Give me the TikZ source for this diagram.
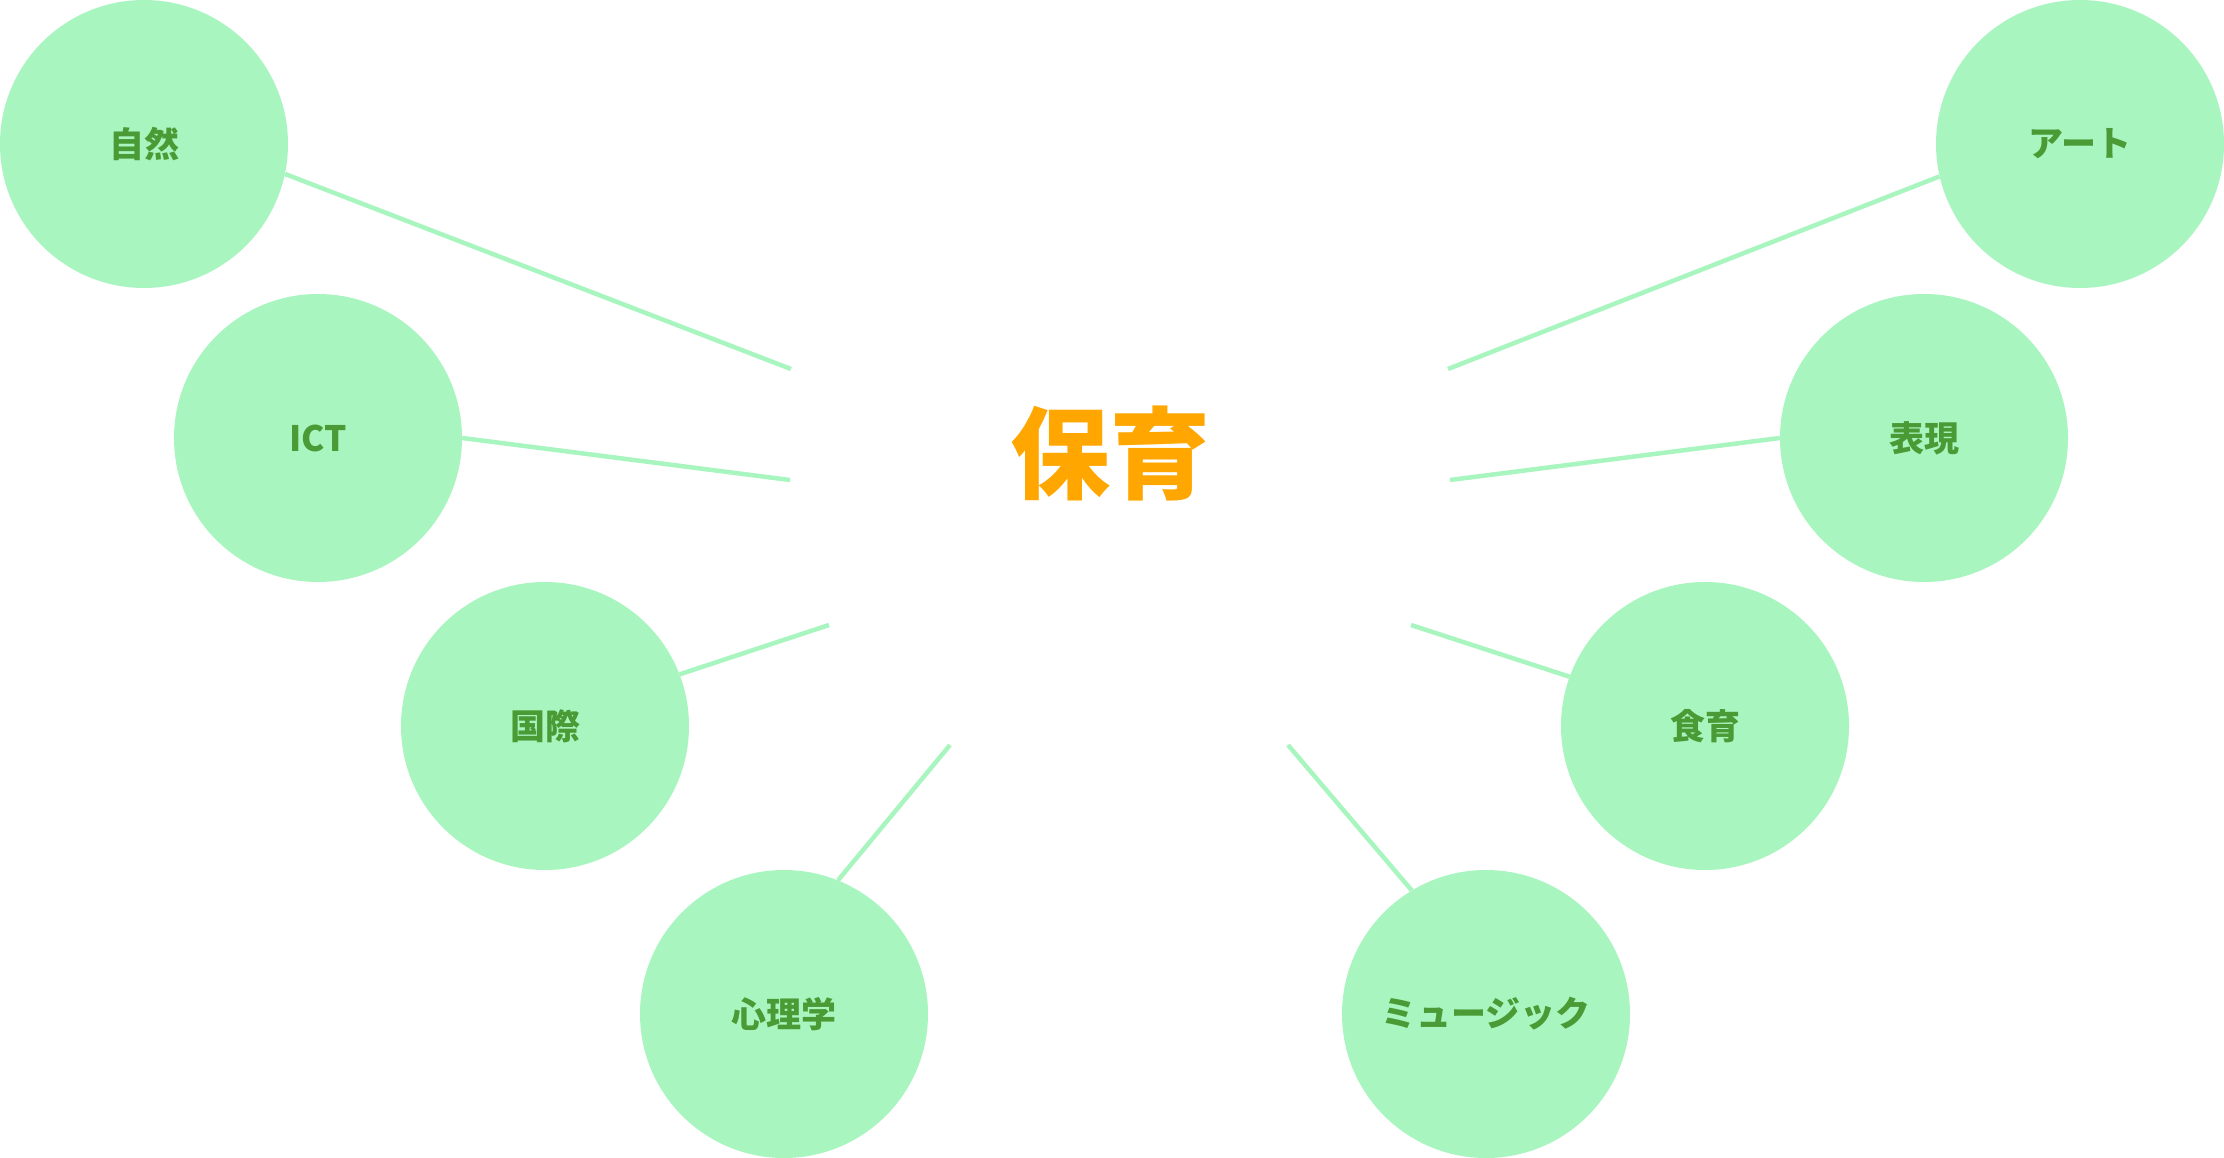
\documentclass[tikz,border=0pt]{standalone}
\usepackage{fontspec}
\setmainfont{Noto Sans CJK JP}
\usepackage{tikz}
\usetikzlibrary{backgrounds}
\definecolor{mint}{HTML}{A9F5C0}
\definecolor{leaf}{HTML}{4A9B35}
\definecolor{amber}{HTML}{FFA600}

\begin{document}
\begin{tikzpicture}[
    x=1pt, y=-1pt,
    topic/.style={circle, fill=mint, minimum size=288pt, inner sep=0pt, text=leaf, font=\bfseries\fontsize{35}{40}\selectfont},
    hub/.style={text=amber, inner sep=0pt, font=\bfseries\fontsize{100}{110}\selectfont},
    link/.style={draw=mint, line width=4.5pt},
]
    \useasboundingbox (0,0) rectangle (2224,1158);

    \node[hub] (care) at (1110,453) {保育};

    % left side
    \node[topic] (nature) at (144,144) {自然};
    \node[topic] (ict) at (318,438) {ICT};
    \node[topic] (intl) at (545,726) {国際};
    \node[topic] (psy) at (784,1014) {心理学};

    % right side
    \node[topic] (art) at (2080,144) {アート};
    \node[topic] (expr) at (1924,438) {表現};
    \node[topic] (food) at (1705,726) {食育};
    \node[topic] (music) at (1486,1014) {ミュージック};

    % free ends round the hub
    \coordinate (nature end) at (791,369);
    \coordinate (ict end) at (790,480);
    \coordinate (intl end) at (829,625);
    \coordinate (psy end) at (950,745);
    \coordinate (art end) at (1448,369);
    \coordinate (expr end) at (1450,480);
    \coordinate (food end) at (1411,625);
    \coordinate (music end) at (1288,745);

    \begin{scope}[on background layer]
        \draw[link] (nature.-12.5) -- (nature end);
        \draw[link] (ict.0) -- (ict end);
        \draw[link] (intl.21) -- (intl end);
        \draw[link] (psy.68) -- (psy end);
        \draw[link] (art.193.6) -- (art end);
        \draw[link] (expr.180) -- (expr end);
        \draw[link] (food.160) -- (food end);
        \draw[link] (music.121) -- (music end);
    \end{scope}
\end{tikzpicture}
\end{document}
